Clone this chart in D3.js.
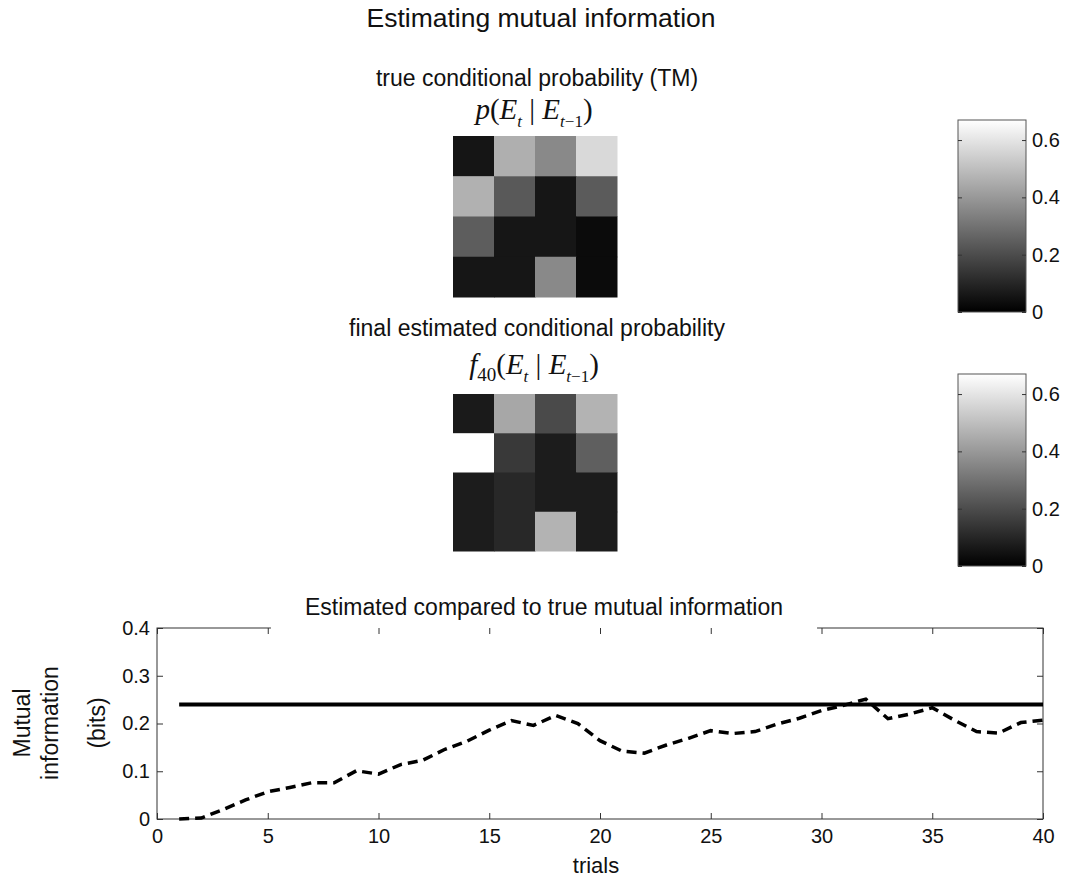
<!DOCTYPE html>
<html>
<head>
<meta charset="utf-8">
<script src="https://cdn.jsdelivr.net/npm/d3@7"></script>
<style>
	body { margin: 0; background: #fff; }
	text { font-family: "Liberation Sans", Arial, Helvetica, sans-serif; fill: #111; }
	.math { font-family: "Liberation Serif", "Times New Roman", serif; }
	.axis path { display: none; }
	.axis line { stroke: #333; }
	.axis text { font-size: 20px; fill: #111; font-family: "Liberation Sans", Arial, sans-serif; }
</style>
</head>
<body>
<div id="chart"></div>
<script>
// data
var trials = [1, 2, 3, 4, 5, 6, 7, 8, 9, 10, 11, 12, 13, 14, 15, 16, 17, 18, 19, 20,
	21, 22, 23, 24, 25, 26, 27, 28, 29, 30, 31, 32, 33, 34, 35, 36, 37, 38, 39, 40];
var estimatedMI = [0, 0.002, 0.02, 0.04, 0.057, 0.066, 0.076, 0.076, 0.101, 0.094,
	0.114, 0.123, 0.146, 0.163, 0.186, 0.206, 0.196, 0.217, 0.200, 0.164,
	0.142, 0.138, 0.155, 0.169, 0.185, 0.179, 0.183, 0.199, 0.211, 0.227,
	0.238, 0.251, 0.210, 0.220, 0.233, 0.207, 0.183, 0.180, 0.202, 0.207];
var trueMI = 0.24;
var trueTM = [
	[0.055, 0.46, 0.36, 0.57],
	[0.465, 0.235, 0.057, 0.24],
	[0.245, 0.057, 0.057, 0.03],
	[0.057, 0.057, 0.36, 0.03]
];
var estimatedTM = [
	[0.068, 0.44, 0.195, 0.47],
	[0.70, 0.15, 0.073, 0.25],
	[0.073, 0.105, 0.073, 0.073],
	[0.073, 0.105, 0.47, 0.073]
];
var colorMax = 0.67;
var colorTicks = [0, 0.2, 0.4, 0.6];
var xTicks = [0, 5, 10, 15, 20, 25, 30, 35, 40];
var yTicks = [0, 0.1, 0.2, 0.3, 0.4];

var W = 1066, H = 879;

var svg = d3.select("#chart")
	.append("svg")
	.attr("width", W)
	.attr("height", H)
;

var gray = d3.scaleLinear()
	.domain([0, colorMax])
	.range(["#000", "#fff"])
	.clamp(true)
;

var numFormat = function(d) { return d === 0 ? "0" : d3.format(".1f")(d); };

/*
	Titles
*/
svg.append("text")
	.attr("x", 541)
	.attr("y", 27)
	.attr("text-anchor", "middle")
	.style("font-size", "26.5px")
	.text("Estimating mutual information")
;

function subtitle(y, str) {
	svg.append("text")
		.attr("x", 537)
		.attr("y", y)
		.attr("text-anchor", "middle")
		.style("font-size", "23px")
		.text(str)
	;
}
subtitle(86, "true conditional probability (TM)");
subtitle(336, "final estimated conditional probability");

// p(E_t | E_{t-1}) and f_40(E_t | E_{t-1})
function mathLabel(y, head, headSub) {
	var t = svg.append("text")
		.attr("class", "math")
		.attr("x", 534)
		.attr("y", y)
		.attr("text-anchor", "middle")
		.style("font-size", "29px")
	;
	t.append("tspan").style("font-style", "italic").text(head);
	if (headSub) {
		t.append("tspan").attr("dy", 7).style("font-size", "19px").text(headSub);
		t.append("tspan").attr("dy", -7).text("(");
	} else {
		t.append("tspan").text("(");
	}
	t.append("tspan").style("font-style", "italic").text("E");
	t.append("tspan").attr("dy", 8).style("font-size", "17px").style("font-style", "italic").text("t");
	t.append("tspan").attr("dy", -8).text(" | ");
	t.append("tspan").style("font-style", "italic").text("E");
	t.append("tspan").attr("dy", 8).style("font-size", "17px").style("font-style", "italic").text("t");
	t.append("tspan").style("font-size", "17px").text("\u22121");
	t.append("tspan").attr("dy", -8).text(")");
}
mathLabel(119, "p", null);
mathLabel(374, "f", "40");

/*
	Heatmaps with colorbars
*/
var ids = [0, 1, 2, 3];

function heatmap(matrix, mTop, mBottom, cbTop, cbBottom, gradId) {
	var xs = d3.scaleBand().domain(ids).range([453, 617]);
	var ys = d3.scaleBand().domain(ids).range([mTop, mBottom]);
	var cells = [];
	matrix.forEach(function(row, r) {
		row.forEach(function(v, c) { cells.push({r: r, c: c, v: v}); });
	});
	svg.append("g")
		.selectAll("rect")
		.data(cells)
		.enter()
		.append("rect")
		.attr("x", function(d) { return xs(d.c); })
		.attr("y", function(d) { return ys(d.r); })
		.attr("width", xs.bandwidth() + 0.5)
		.attr("height", ys.bandwidth() + 0.5)
		.attr("fill", function(d) { return gray(d.v); })
	;

	var cScale = d3.scaleLinear()
		.domain([0, colorMax])
		.range([cbBottom, cbTop])
	;
	var grad = svg.append("defs")
		.append("linearGradient")
		.attr("id", gradId)
		.attr("x1", 0).attr("y1", 1)
		.attr("x2", 0).attr("y2", 0)
	;
	grad.append("stop").attr("offset", "0%").attr("stop-color", gray(0));
	grad.append("stop").attr("offset", "100%").attr("stop-color", gray(colorMax));

	svg.append("rect")
		.attr("x", 958)
		.attr("y", cbTop)
		.attr("width", 68)
		.attr("height", cbBottom - cbTop)
		.attr("fill", "url(#" + gradId + ")")
		.attr("stroke", "#555")
		.attr("stroke-width", 1)
	;
	svg.append("g")
		.attr("class", "axis")
		.attr("transform", "translate(1026,0)")
		.call(d3.axisRight(cScale).tickValues(colorTicks).tickSizeInner(-4).tickSizeOuter(0).tickPadding(6)
			.tickFormat(numFormat))
	;
	svg.append("g")
		.attr("class", "axis")
		.attr("transform", "translate(958,0)")
		.call(d3.axisLeft(cScale).tickValues(colorTicks).tickSizeInner(-4).tickSizeOuter(0).tickFormat(""))
	;
}
heatmap(trueTM, 136, 297, 120, 312, "cb1");
heatmap(estimatedTM, 394, 551, 374, 566, "cb2");

/*
	Mutual information line chart
*/
var plotLeft = 157, plotRight = 1043, plotTop = 628, plotBottom = 819;

var xScale = d3.scaleLinear()
	.domain([0, 40])
	.range([plotLeft, plotRight])
;
var yScale = d3.scaleLinear()
	.domain([0, 0.4])
	.range([plotBottom, plotTop])
;

svg.append("rect")
	.attr("x", plotLeft)
	.attr("y", plotTop)
	.attr("width", plotRight - plotLeft)
	.attr("height", plotBottom - plotTop)
	.attr("fill", "none")
	.attr("stroke", "#333")
	.attr("stroke-width", 1)
;

// title sits on a white box that hides part of the top frame
var lineTitle = svg.append("text")
	.attr("x", 544)
	.attr("y", 615)
	.attr("text-anchor", "middle")
	.style("font-size", "23px")
	.text("Estimated compared to true mutual information")
;
var bb = lineTitle.node().getBBox();
svg.insert("rect", function() { return lineTitle.node(); })
	.attr("x", bb.x - 34)
	.attr("y", bb.y - 4)
	.attr("width", bb.width + 68)
	.attr("height", plotTop + 1.5 - (bb.y - 4))
	.attr("fill", "#fff")
;

svg.append("g")
	.attr("class", "axis")
	.attr("transform", "translate(0," + plotBottom + ")")
	.call(d3.axisBottom(xScale).tickValues(xTicks).tickSizeInner(-6).tickSizeOuter(0).tickPadding(10))
;
svg.append("g")
	.attr("class", "axis")
	.attr("transform", "translate(0," + plotTop + ")")
	.call(d3.axisTop(xScale).tickValues(xTicks).tickSizeInner(-6).tickSizeOuter(0).tickFormat(""))
;
svg.append("g")
	.attr("class", "axis")
	.attr("transform", "translate(" + plotLeft + ",0)")
	.call(d3.axisLeft(yScale).tickValues(yTicks).tickSizeInner(-6).tickSizeOuter(0).tickPadding(7)
		.tickFormat(numFormat))
;
svg.append("g")
	.attr("class", "axis")
	.attr("transform", "translate(" + plotRight + ",0)")
	.call(d3.axisRight(yScale).tickValues(yTicks).tickSizeInner(-6).tickSizeOuter(0).tickFormat(""))
;

svg.append("line")
	.attr("x1", xScale(trials[0]))
	.attr("x2", xScale(trials[trials.length - 1]))
	.attr("y1", yScale(trueMI))
	.attr("y2", yScale(trueMI))
	.attr("stroke", "#000")
	.attr("stroke-width", 4)
;

var line = d3.line()
	.x(function(d, i) { return xScale(trials[i]); })
	.y(function(d) { return yScale(d); })
;
svg.append("path")
	.datum(estimatedMI)
	.attr("d", line)
	.attr("fill", "none")
	.attr("stroke", "#000")
	.attr("stroke-width", 3.5)
	.attr("stroke-dasharray", "10,6")
;

svg.append("text")
	.attr("x", 596)
	.attr("y", 873)
	.attr("text-anchor", "middle")
	.style("font-size", "22px")
	.text("trials")
;

function yLabel(x, str) {
	svg.append("text")
		.attr("transform", "translate(" + x + ",723) rotate(-90)")
		.attr("text-anchor", "middle")
		.attr("dominant-baseline", "central")
		.style("font-size", "23px")
		.text(str)
	;
}
yLabel(22, "Mutual");
yLabel(50, "information");
yLabel(97, "(bits)");
</script>
</body>
</html>
